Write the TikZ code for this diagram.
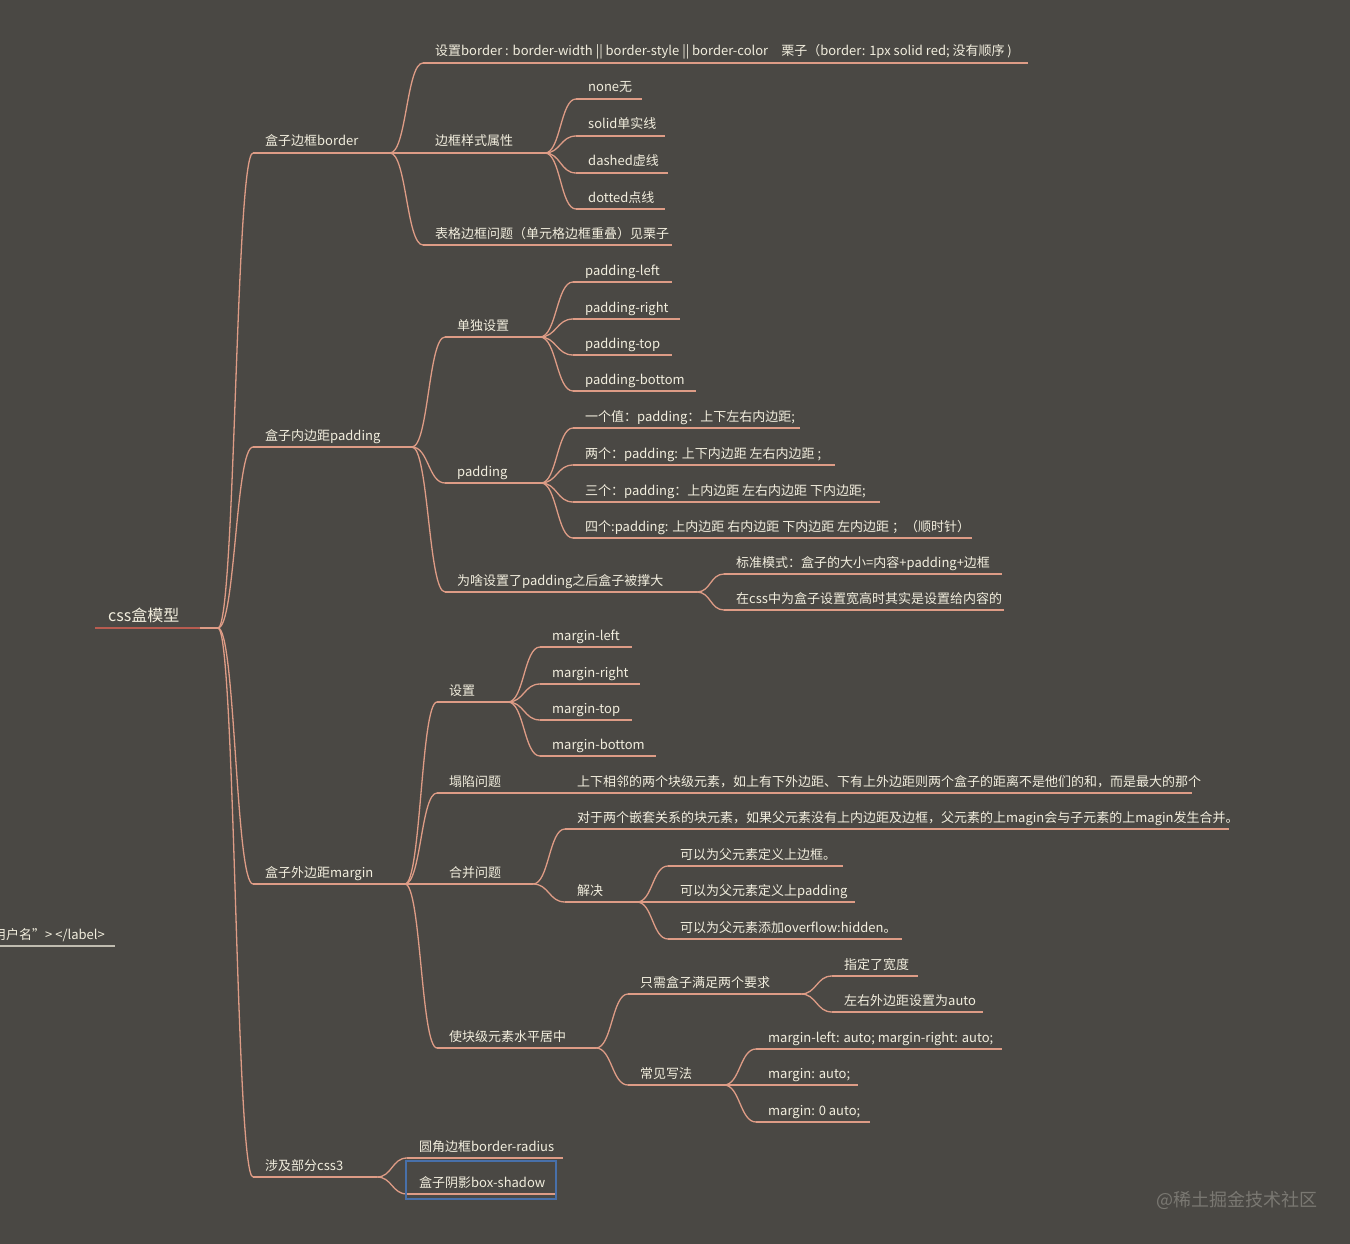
\documentclass[tikz,border=0pt]{standalone}
\usepackage{fontspec}
\setmainfont{Noto Sans CJK SC}
\usetikzlibrary{calc}
\definecolor{bgc}{RGB}{74,72,68}
\definecolor{lnc}{RGB}{222,156,134}
\definecolor{rootc}{RGB}{184,92,80}
\definecolor{txtc}{RGB}{242,238,222}
\definecolor{boxc}{RGB}{72,112,170}
\definecolor{wmc}{RGB}{122,120,114}
\tikzset{
  ln/.style={draw=lnc,line width=1.3pt},
  lbl/.style={text=txtc,font=\fontsize{13}{15}\selectfont,inner sep=0pt},
  selbox/.style={draw=boxc,line width=1.5pt},
}
\newcommand\MNode[6]{%
  \coordinate (#1-s) at (#2,#4);
  \coordinate (#1-e) at (#3,#4);
  \node[lbl,anchor=base west] (#1) at (#5,#4-7) {#6};
  \draw[ln] (#1-s) -- (#1-e);}
\newcommand\Conn[2]{%
  \draw[ln] let \p1=(#1-e), \p2=(#2-s) in
    (\p1) .. controls (\x1/2+\x2/2,\y1) and (\x1/2+\x2/2,\y2) .. (\p2);}
\begin{document}
\begin{tikzpicture}[x=1pt,y=-1pt]
\fill[bgc] (0,0) rectangle (1350,1244);
\useasboundingbox (0,0) rectangle (1350,1244);
% root
\coordinate (root-s) at (95,628);
\coordinate (root-m) at (200,628);
\coordinate (root-e) at (218,628);
\node[text=txtc,font=\fontsize{16}{18}\selectfont,inner sep=0pt,anchor=base west] (root) at (108,621) {css盒模型};
\draw[draw=rootc,line width=2.2pt] (root-s) -- (root-m);
\draw[ln,line width=2pt] (root-m) -- (root-e);
% level 1
\MNode{A}{253}{390}{153}{265}{盒子边框border}
\MNode{B}{253}{412}{447}{265}{盒子内边距padding}
\MNode{C}{253}{405}{884}{265}{盒子外边距margin}
\MNode{D}{253}{377}{1177}{265}{涉及部分css3}
\Conn{root}{A}\Conn{root}{B}\Conn{root}{C}\Conn{root}{D}
% border
\MNode{A1}{423}{1028}{63}{435}{设置border : border-width || border-style || border-color\quad 栗子（border: 1px solid red; 没有顺序 )}
\MNode{A2}{423}{545}{153}{435}{边框样式属性}
\MNode{A3}{423}{672}{245}{435}{表格边框问题（单元格边框重叠）见栗子}
\Conn{A}{A1}\Conn{A}{A2}\Conn{A}{A3}
\MNode{A21}{576}{642}{99}{588}{none无}
\MNode{A22}{576}{665}{136}{588}{solid单实线}
\MNode{A23}{576}{668}{173}{588}{dashed虚线}
\MNode{A24}{576}{665}{209}{588}{dotted点线}
\Conn{A2}{A21}\Conn{A2}{A22}\Conn{A2}{A23}\Conn{A2}{A24}
% padding
\MNode{B1}{445}{540}{337}{457}{单独设置}
\MNode{B2}{445}{541}{483}{457}{padding}
\MNode{B3}{445}{697}{592}{457}{为啥设置了padding之后盒子被撑大}
\Conn{B}{B1}\Conn{B}{B2}\Conn{B}{B3}
\MNode{B11}{573}{672}{282}{585}{padding-left}
\MNode{B12}{573}{680}{319}{585}{padding-right}
\MNode{B13}{573}{672}{355}{585}{padding-top}
\MNode{B14}{573}{696}{391}{585}{padding-bottom}
\Conn{B1}{B11}\Conn{B1}{B12}\Conn{B1}{B13}\Conn{B1}{B14}
\MNode{B21}{573}{800}{428}{585}{一个值：padding：上下左右内边距;}
\MNode{B22}{573}{835}{465}{585}{两个：padding: 上下内边距 左右内边距 ;}
\MNode{B23}{573}{880}{502}{585}{三个：padding：上内边距 左右内边距 下内边距;}
\MNode{B24}{573}{972}{538}{585}{四个:padding: 上内边距 右内边距 下内边距 左内边距 ；（顺时针）}
\Conn{B2}{B21}\Conn{B2}{B22}\Conn{B2}{B23}\Conn{B2}{B24}
\MNode{B31}{724}{1002}{574}{736}{标准模式：盒子的大小=内容+padding+边框}
\MNode{B32}{724}{1004}{610}{736}{在css中为盒子设置宽高时其实是设置给内容的}
\Conn{B3}{B31}\Conn{B3}{B32}
% margin
\MNode{C1}{437}{508}{702}{449}{设置}
\MNode{C2}{437}{540}{793}{449}{塌陷问题}
\MNode{C3}{437}{533}{884}{449}{合并问题}
\MNode{C4}{437}{596}{1048}{449}{使块级元素水平居中}
\Conn{C}{C1}\Conn{C}{C2}\Conn{C}{C3}\Conn{C}{C4}
\MNode{C11}{540}{632}{647}{552}{margin-left}
\MNode{C12}{540}{640}{684}{552}{margin-right}
\MNode{C13}{540}{632}{720}{552}{margin-top}
\MNode{C14}{540}{656}{756}{552}{margin-bottom}
\Conn{C1}{C11}\Conn{C1}{C12}\Conn{C1}{C13}\Conn{C1}{C14}
\MNode{C21}{565}{1192}{793}{577}{上下相邻的两个块级元素，如上有下外边距、下有上外边距则两个盒子的距离不是他们的和，而是最大的那个}
\Conn{C2}{C21}
\MNode{C31}{565}{1229}{829}{577}{对于两个嵌套关系的块元素，如果父元素没有上内边距及边框，父元素的上magin会与子元素的上magin发生合并。}
\MNode{C32}{565}{637}{902}{577}{解决}
\Conn{C3}{C31}\Conn{C3}{C32}
\MNode{C321}{668}{843}{866}{680}{可以为父元素定义上边框。}
\MNode{C322}{668}{855}{902}{680}{可以为父元素定义上padding}
\MNode{C323}{668}{902}{939}{680}{可以为父元素添加overflow:hidden。}
\Conn{C32}{C321}\Conn{C32}{C322}\Conn{C32}{C323}
\MNode{C41}{628}{801}{994}{640}{只需盒子满足两个要求}
\MNode{C42}{628}{724}{1085}{640}{常见写法}
\Conn{C4}{C41}\Conn{C4}{C42}
\MNode{C411}{832}{918}{976}{844}{指定了宽度}
\MNode{C412}{832}{983}{1012}{844}{左右外边距设置为auto}
\Conn{C41}{C411}\Conn{C41}{C412}
\MNode{C421}{756}{1002}{1049}{768}{margin-left: auto; margin-right: auto;}
\MNode{C422}{756}{858}{1085}{768}{margin: auto;}
\MNode{C423}{756}{870}{1122}{768}{margin: 0 auto;}
\Conn{C42}{C421}\Conn{C42}{C422}\Conn{C42}{C423}
% css3
\MNode{D1}{407}{563}{1158}{419}{圆角边框border-radius}
\MNode{D2}{407}{555}{1194}{419}{盒子阴影box-shadow}
\Conn{D}{D1}\Conn{D}{D2}
\draw[selbox] (406,1161) rectangle (556,1199);
% stray fragment at left edge
\coordinate (S-s) at (0,946);
\coordinate (S-e) at (115,946);
\node[lbl,anchor=base east] (S) at (105,939) {用户名"> </label>};
\draw[draw=txtc!70!bgc,line width=1.2pt] (S-s) -- (S-e);
% watermark
\node[text=wmc,font=\fontsize{18}{20}\selectfont,inner sep=0pt,anchor=east] (wm) at (1318,1200) {@稀土掘金技术社区};
\end{tikzpicture}
\end{document}
